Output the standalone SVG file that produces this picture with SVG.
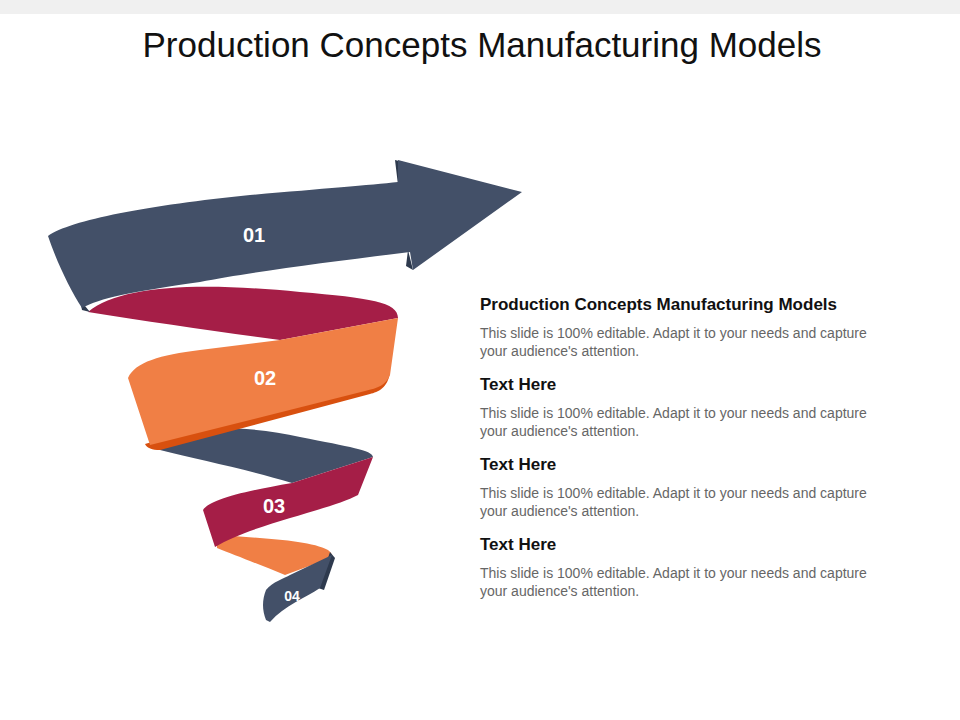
<svg xmlns="http://www.w3.org/2000/svg" width="960" height="720" viewBox="0 0 960 720">
<style>
.d{fill:#435068}.c{fill:#A51E47}.o{fill:#F07F45}.s{fill:#D8500F}.dk{fill:#2E3A4E}
.n{font-family:"Liberation Sans",Arial,sans-serif;font-weight:bold;fill:#fff;text-anchor:middle}
.h{font-family:"Liberation Sans",Arial,sans-serif;font-weight:bold;font-size:17px;fill:#111}
.b{font-family:"Liberation Sans",Arial,sans-serif;font-size:14px;fill:#666}
</style>
<rect width="960" height="720" fill="#fff"/>
<rect width="960" height="14" fill="#f0f0f0"/>
<text x="482" y="57" text-anchor="middle" font-family="Liberation Sans,Arial,sans-serif" font-size="35" fill="#111">Production Concepts Manufacturing Models</text>
<g id="ribbon">
<g id="n4">
<path class="o" d="M217,535 C260,538 310,540 328,550 C336,556 330,560 320,562 L285,575 C260,565 235,555 217,548 Z"/>
<path class="dk" d="M330,552 L335,558 L324,590 L318,588 Z"/>
<path class="d" d="M332,555 L320,588 C305,598 285,605 270,622 L266,620 C262,610 262,600 266,590 C272,582 285,578 290,575 Z"/>
<text class="n" x="292" y="601" font-size="14">04</text>
</g>
<g id="n3">
<path class="d" d="M158,437 C180,425 250,425 300,437 C350,447 372,450 373,457 L292,483 C250,470 200,460 160,450 Z"/>
<path class="c" d="M373,457 L358,495 C330,510 250,525 215,547 L203,510 C210,500 240,492 292,483 Z"/>
<text class="n" x="274" y="513" font-size="20">03</text>
</g>
<g id="n2">
<path class="c" d="M88,312 C120,285 200,282 300,292 C370,298 398,302 398,318 L280,340 C220,332 150,322 88,312 Z"/>
<path class="s" d="M390,372 C388,388 378,392 370,394 L160,450 C152,450 147,448 145,444 Z"/>
<path class="o" d="M398,318 L390,375 C386,385 378,388 365,391 L150,445 L128,378 C135,362 160,355 200,350 L280,340 Z"/>
<text class="n" x="265" y="385" font-size="20">02</text>
</g>
<g id="n1">
<path class="dk" d="M395,160 L403,162 L398,185 Z M408,250 L413,270 L406,266 Z M80,300 L90,312 L82,310 Z"/>
<path class="d" d="M48,236 C70,220 150,205 250,195 C320,189 370,185 398,182 L398,160 L522,192 L413,270 L410,252 C330,262 250,272 200,282 C130,292 100,298 82,308 C70,290 56,260 48,236 Z"/>
<text class="n" x="254" y="242" font-size="20">01</text>
</g>
</g>
<g id="text">
<text class="h" x="480" y="310">Production Concepts Manufacturing Models</text>
<text class="b" x="480" y="338">This slide is 100% editable. Adapt it to your needs and capture</text>
<text class="b" x="480" y="356">your audience's attention.</text>
<text class="h" x="480" y="390">Text Here</text>
<text class="b" x="480" y="418">This slide is 100% editable. Adapt it to your needs and capture</text>
<text class="b" x="480" y="436">your audience's attention.</text>
<text class="h" x="480" y="470">Text Here</text>
<text class="b" x="480" y="498">This slide is 100% editable. Adapt it to your needs and capture</text>
<text class="b" x="480" y="516">your audience's attention.</text>
<text class="h" x="480" y="550">Text Here</text>
<text class="b" x="480" y="578">This slide is 100% editable. Adapt it to your needs and capture</text>
<text class="b" x="480" y="596">your audience's attention.</text>
</g>
<g id="connectors"/>
</svg>
